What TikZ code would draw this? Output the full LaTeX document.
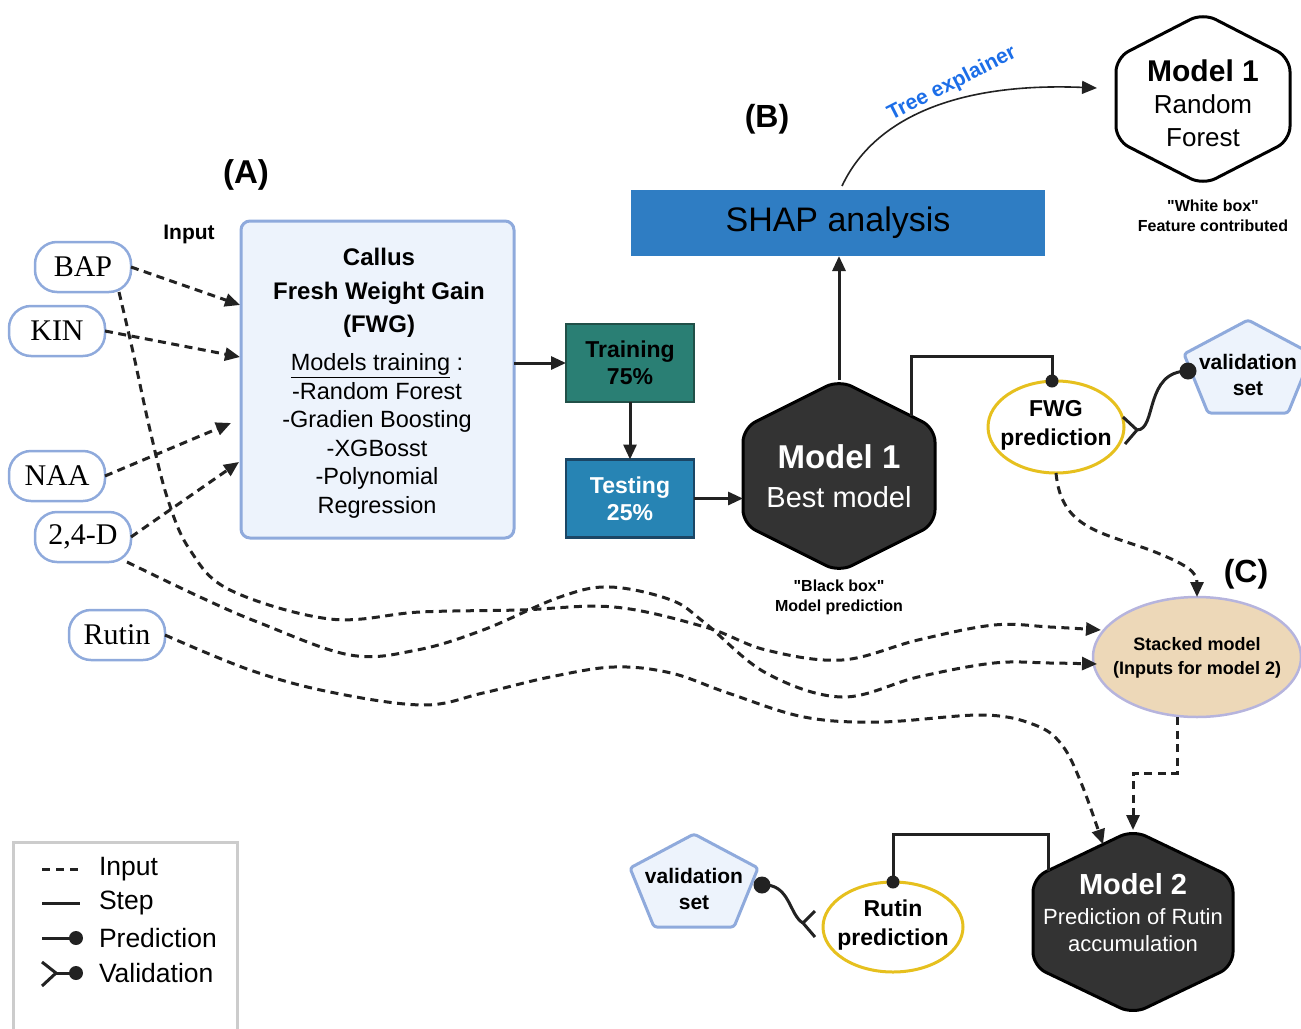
\documentclass[tikz,border=0pt]{standalone}
\usepackage{fontspec}
\setmainfont{Liberation Sans}
\newfontfamily\inputserif{Liberation Serif}
\newfontfamily\notefont{Liberation Sans}
\usetikzlibrary{arrows.meta,calc,shapes.geometric}

\definecolor{inborder}{RGB}{143,170,220}
\definecolor{infill}{RGB}{237,243,252}
\definecolor{traingreen}{RGB}{42,127,116}
\definecolor{trainedge}{RGB}{33,80,72}
\definecolor{testblue}{RGB}{39,132,180}
\definecolor{testedge}{RGB}{27,70,101}
\definecolor{shapblue}{RGB}{47,125,195}
\definecolor{hexdark}{RGB}{51,51,51}
\definecolor{predgold}{RGB}{230,192,30}
\definecolor{stackfill}{RGB}{237,216,184}
\definecolor{stackedge}{RGB}{182,180,221}
\definecolor{treeblue}{RGB}{28,110,232}
\definecolor{legendgray}{RGB}{204,204,204}
\definecolor{ink}{RGB}{34,34,34}

\newcommand{\fsz}[2]{\fontsize{#1}{#2}\selectfont}
% hexagon with pointed top and bottom, drawn round the bounding node #1
\newcommand{\hexdraw}[3]{%
  \coordinate (#1-ur) at ($(#1.north east)!#3!(#1.south east)$);
  \coordinate (#1-lr) at ($(#1.south east)!#3!(#1.north east)$);
  \coordinate (#1-ll) at ($(#1.south west)!#3!(#1.north west)$);
  \coordinate (#1-ul) at ($(#1.north west)!#3!(#1.south west)$);
  \draw[#2] (#1.east) -- (#1-lr) -- (#1.south) -- (#1-ll) -- (#1-ul) -- (#1.north) -- (#1-ur) -- cycle;
}
% pentagon for the validation sets, round the coordinate #1
\newcommand{\pentdraw}[1]{%
  \draw[valshape] ($(#1)+(0,-55)$) -- ($(#1)+(64,-21)$) -- ($(#1)+(40,38)$) -- ($(#1)+(-40,38)$) -- ($(#1)+(-64,-21)$) -- cycle;
}

\tikzset{
  every node/.style={inner sep=0pt, outer sep=0pt},
  inputbox/.style={draw=inborder, line width=2.5pt, fill=white, rounded corners=22pt,
    minimum width=96pt, minimum height=50pt, font=\inputserif\fsz{30}{36}},
  dashlink/.style={draw=ink, line width=3pt, dash pattern=on 8pt off 5.5pt,
    -{Triangle[length=15pt,width=13pt]}},
  steplink/.style={draw=ink, line width=3pt},
  steparrow/.style={steplink, -{Triangle[length=15pt,width=13pt]}},
  hexblack/.style={fill=hexdark, draw=black, line width=3pt, rounded corners=14pt},
  hexwhite/.style={fill=white, draw=black, line width=3pt, rounded corners=14pt},
  predoval/.style={ellipse, draw=predgold, line width=3pt, fill=white},
  predtext/.style={font=\bfseries\fsz{23}{29}, align=center},
  valshape/.style={draw=inborder, fill=infill, line width=3pt, rounded corners=3pt, line join=round},
  valtext/.style={font=\bfseries\fsz{21}{26}, align=center},
  splitbox/.style={line width=2.5pt, minimum width=128pt, minimum height=78pt,
    font=\bfseries\fsz{23}{27}, align=center},
  notetext/.style={font=\notefont\bfseries\fsz{16}{20}, align=center},
  legtext/.style={anchor=west, font=\fsz{26.5}{30}},
}

\begin{document}
\begin{tikzpicture}[x=1pt,y=-1pt]
\useasboundingbox (0,0) rectangle (1301,1028);

% section headings
\node[font=\bfseries\fsz{33}{40}] (labA) at (246,175) {(A)};
\node[font=\bfseries\fsz{32}{40}] (labB) at (767,119) {(B)};
\node[font=\bfseries\fsz{32}{40}] (labC) at (1246,574) {(C)};
\node[font=\bfseries\fsz{21}{26}] (inputhead) at (189,234) {Input};

% growth regulators and rutin as inputs
\node[inputbox] (bap) at (83,267) {BAP};
\node[inputbox] (kin) at (57,331) {KIN};
\node[inputbox] (naa) at (57,476) {NAA};
\node[inputbox] (d24) at (83,537) {2,4-D};
\node[inputbox] (rutin) at (117,635) {Rutin};

% callus fresh weight gain box
\node[draw=inborder, fill=infill, line width=3pt, rounded corners=9pt,
      minimum width=273pt, minimum height=317pt] (callus) at (377.5,379.5) {};
\node[font=\bfseries\fsz{24}{33.5}, align=center] (callustitle) at (379,293)
  {Callus\\Fresh Weight Gain\\(FWG)};
\node[font=\fsz{23.5}{28.6}, align=center] (modellist) at (377,436)
  {\underline{Models training} :\\-Random Forest\\-Gradien Boosting\\-XGBosst\\-Polynomial\\Regression};

% data split
\node[splitbox, fill=traingreen, draw=trainedge] (train) at (630,363) {Training\\75\%};
\node[splitbox, fill=testblue, draw=testedge, text=white] (test) at (630,498.5) {Testing\\25\%};

% SHAP
\node[fill=shapblue, minimum width=414pt, minimum height=66pt, font=\fsz{34}{40}] (shap) at (838,223) {SHAP analysis};

% model 1, best model
\node[minimum width=192pt, minimum height=192pt] (m1) at (839,476) {};
\hexdraw{m1}{hexblack}{0.25}
\node[text=white, font=\fsz{29}{39}, align=center] (m1txt) at (839,476)
  {{\bfseries\fsz{33}{39}Model 1}\\Best model};
\node[notetext] (m1note) at (839,597.5) {"Black box"\\Model prediction};

% model 1, random forest
\node[minimum width=174pt, minimum height=172pt] (rf) at (1203,99) {};
\hexdraw{rf}{hexwhite}{0.26}
\node[font=\fsz{26}{32.5}, align=center] (rftxt) at (1203,103)
  {{\bfseries\fsz{30}{32.5}Model 1}\\Random\\Forest};
\node[notetext] (rfnote) at (1213,216) {"White box"\\Feature contributed};

% model 2
\node[minimum width=200pt, minimum height=184pt] (m2) at (1133,922) {};
\hexdraw{m2}{hexblack}{0.26}
\node[text=white, font=\fsz{22}{27}, align=center] (m2txt) at (1133,913)
  {{\bfseries\fsz{29}{30}Model 2}\\[3pt]Prediction of Rutin\\accumulation};

% predictions
\node[predoval, minimum width=136pt, minimum height=92pt] (fwg) at (1056,427) {};
\node[predtext] (fwgtxt) at (1056,425) {FWG\\prediction};
\node[predoval, minimum width=140pt, minimum height=90pt] (rpred) at (893,927) {};
\node[predtext] (rpredtxt) at (893,925.5) {Rutin\\prediction};

% stacked model
\node[ellipse, fill=stackfill, draw=stackedge, line width=2.5pt,
      minimum width=208pt, minimum height=120pt] (stack) at (1197,657) {};
\node[font=\bfseries\fsz{18}{24}, align=center] (stacktxt) at (1197,657.5)
  {Stacked model\\(Inputs for model 2)};

% validation sets
\coordinate (valtopc) at (1248,375);
\pentdraw{valtopc}
\node[valtext] (valtop) at (valtopc) {validation\\set};
\coordinate (valbotc) at (694,889);
\pentdraw{valbotc}
\node[valtext] (valbot) at (valbotc) {validation\\set};

% inputs into the callus box
\draw[dashlink] (bap.east) -- ($(callus.west)+(-1,-74.5)$);
\draw[dashlink] (kin.east) -- ($(callus.west)+(-1,-22.5)$);
\draw[dashlink] (naa.east) -- ($(callus.west)+(-10,43.5)$);
\draw[dashlink] (d24.east) -- ($(callus.west)+(-2,82.5)$);

% training flow
\draw[steparrow] (callus.east |- train.west) -- (train.west);
\draw[steparrow] (train.south) -- (test.north);
\draw[steparrow] (test.east) -- (test.east -| m1.west);
\draw[steparrow] (m1.north) -- (m1.north |- shap.south);

% tree explainer
\coordinate (treestart) at ($(shap.north)+(4,-4)$);
\draw[ink, line width=1.6pt, -{Triangle[length=15pt,width=13pt]}]
  (treestart) .. controls (872,122) and (950,82) .. ($(rf.west)+(-19,-11)$);
\node[text=treeblue, font=\bfseries\fsz{21}{25}, rotate=27] (treelbl) at (952,84) {Tree explainer};

% model 1 to FWG prediction
\coordinate (m1out) at ($(m1.north)!0.76!(m1-ur)$);
\coordinate (fwgtop) at ($(fwg.north)+(-4,0)$);
\draw[steplink] (m1out) |- ($(fwgtop)+(0,-25)$) -- (fwgtop);
\fill[ink] (fwgtop) circle[radius=6.5pt];

% validation of FWG prediction
\coordinate (fk1) at ($(fwg.east)+(13,3)$);
\coordinate (vd1) at ($(valtopc)+(-60,-4)$);
\draw[steplink] ($(fwg.east)+(-1,-10)$) -- (fk1) -- ($(fwg.east)+(1,17)$);
\draw[steplink] (fk1) .. controls ($(fk1)+(20,0)$) and ($(vd1)+(-44,0)$) .. (vd1);
\fill[ink] (vd1) circle[radius=8.5pt];

% FWG prediction into the stacked model
\draw[dashlink] (fwg.south) .. controls ($(fwg.south)+(5,55)$) and (1100,532) .. (1150,550)
  .. controls (1188,565) and ($(stack.north)+(0,-25)$) .. (stack.north);

% long input connectors into stage (C)
\coordinate (bapout) at ($(bap.south)+(36,0)$);
\coordinate (d24out) at ($(d24.south east)+(-4,0)$);
\coordinate (stackin1) at ($(stack.west)+(8,-27)$);
\coordinate (stackin2) at ($(stack.west)+(4,7)$);
\coordinate (m2in) at ($(m2-ul)!0.7!(m2.north)$);
\draw[dashlink] plot[smooth, tension=0.6] coordinates {(bapout) (133,352) (150,430) (168,500)
  (190,550) (230,590) (330,619) (420,612) (520,610) (614,607) (705,627) (766,650) (842,660)
  (918,640) (994,625) (1050,627) (stackin1)};
\draw[dashlink] plot[smooth, tension=0.6] coordinates {(d24out) (200,597) (260,623) (350,655)
  (417,650) (483,630) (560,597) (610,587) (671,600) (705,623) (766,673) (842,697) (918,677)
  (994,663) (1050,663) (stackin2)};
\draw[dashlink] plot[smooth, tension=0.6] coordinates {(rutin.east) (250,670) (330,692)
  (423,705) (483,693) (550,677) (614,667) (671,673) (728,693) (804,717) (880,722) (983,715)
  (1035,725) (1062,745) (1082,785) (m2in)};

% stacked model into model 2
\draw[dashlink] ($(stack.south)+(-20,0)$) -- ++(0,56) -| (m2.north);

% rutin prediction from model 2
\coordinate (m2in2) at ($(m2-ul)!0.15!(m2.north)$);
\draw[steplink] (rpred.north) |- ($(m2in2)+(0,-36)$) -- (m2in2);
\fill[ink] (rpred.north) circle[radius=6.5pt];

% validation of rutin prediction
\coordinate (fk2) at ($(rpred.west)+(-20,-4)$);
\coordinate (vd2) at ($(valbotc)+(68,-4)$);
\draw[steplink] ($(rpred.west)+(-8,-16)$) -- (fk2) -- ($(rpred.west)+(-8,10)$);
\draw[steplink] (fk2) .. controls ($(fk2)+(-14,-8)$) and ($(vd2)+(28,-2)$) .. (vd2);
\fill[ink] (vd2) circle[radius=8.5pt];

% legend
\node[draw=legendgray, line width=3pt, minimum width=224pt, minimum height=200pt,
      anchor=north west] (legend) at (13,842) {};
\draw[steplink, dash pattern=on 8pt off 6pt] (42,869) -- (80,869);
\node[legtext] (leginput) at (99,869) {Input};
\draw[steplink] (42,903) -- (80,903);
\node[legtext] (legstep) at (99,903) {Step};
\draw[steplink] (42,938) -- (72,938);
\fill[ink] (76,938) circle[radius=7pt];
\node[legtext] (legpred) at (99,938) {Prediction};
\draw[steplink] (42,962) -- (56,973) -- (42,986);
\draw[steplink] (56,973) -- (72,973);
\fill[ink] (76,973) circle[radius=7pt];
\node[legtext] (legval) at (99,973) {Validation};
\end{tikzpicture}
\end{document}
